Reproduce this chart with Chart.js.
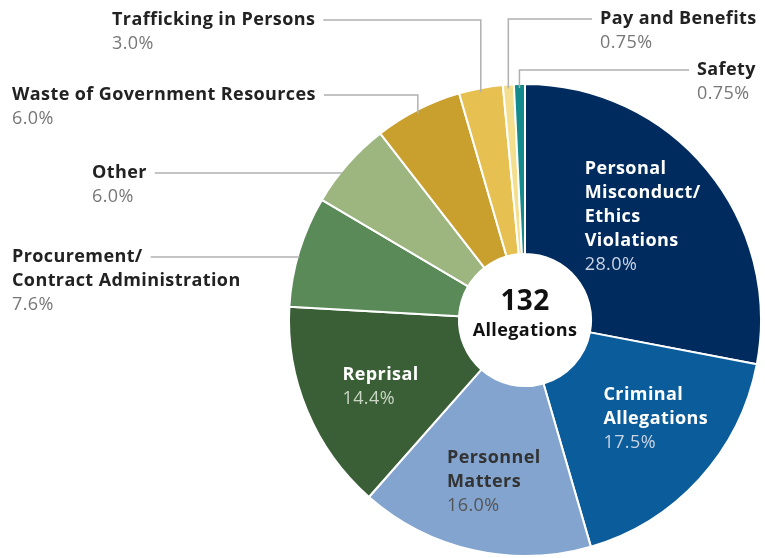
<!DOCTYPE html>
<html>
<head>
<meta charset="utf-8">
<script src="https://cdn.jsdelivr.net/npm/chart.js@4"></script>
<style>
  html, body { margin: 0; padding: 0; background: #fff; }
  #wrap { width: 765px; height: 558px; }
</style>
</head>
<body>
<div id="wrap"><canvas id="allegChart"></canvas></div>
<script>
// categories (clockwise from 12 o'clock)
const categories = [
    ['Personal', 'Misconduct/', 'Ethics', 'Violations'],
    ['Criminal', 'Allegations'],
    ['Personnel', 'Matters'],
    ['Reprisal'],
    ['Procurement/', 'Contract Administration'],
    ['Other'],
    ['Waste of Government Resources'],
    ['Trafficking in Persons'],
    ['Pay and Benefits'],
    ['Safety']
];
const percentages = [28.0, 17.5, 16.0, 14.4, 7.6, 6.0, 6.0, 3.0, 0.75, 0.75];
const pctLabels = ['28.0%', '17.5%', '16.0%', '14.4%', '7.6%', '6.0%', '6.0%', '3.0%', '0.75%', '0.75%'];
const totalCount = '132';
const totalLabel = 'Allegations';

const sliceColors = ['#002b5f', '#0a5c9a', '#82a4cf', '#3a5f36', '#5a8a58', '#9db680', '#c9a02e', '#e6c050', '#f3df8e', '#138b8c'];

const FONT = '"Open Sans", "Noto Sans", sans-serif';

// label placement per slice: inside labels are offset from the arc's mid point,
// outside labels sit at a fixed text spot with a leader line to the rim
const labelCfg = [
    { inside: true, r: 0.62, dx: -71, dy: -43, color: '#fff', pct: '#c9d3e3' },
    { inside: true, r: 0.62, dx: -47, dy: -39, color: '#fff', pct: '#c9d3e3' },
    { inside: true, r: 0.62, dx: -41, dy: -28, color: '#333', pct: '#555' },
    { inside: true, r: 0.62, dx: -26, dy: -11, color: '#fff', pct: '#c9d6c4' },
    { inside: false, x: 12, y: 257, line: 'h' },
    { inside: false, x: 92, y: 173, line: 'h' },
    { inside: false, x: 12, y: 95, line: 'v' },
    { inside: false, x: 112, y: 20, line: 'v' },
    { inside: false, x: 600, y: 19, line: 'vr' },
    { inside: false, x: 697, y: 70, line: 'vr' }
];

const labelPlugin = {
    id: 'allegLabels',
    afterDatasetsDraw(chart) {
        const ctx = chart.ctx;
        const arcs = chart.getDatasetMeta(0).data;
        ctx.save();
        ctx.letterSpacing = '0.4px';
        arcs.forEach((arc, i) => {
            const p = arc.getProps(['x', 'y', 'startAngle', 'endAngle', 'outerRadius', 'innerRadius'], true);
            const mid = (p.startAngle + p.endAngle) / 2;
            const cfg = labelCfg[i];
            const lines = categories[i];
            ctx.textBaseline = 'middle';
            ctx.textAlign = 'left';
            if (cfg.inside) {
                // keep the anchor independent of the cutout size
                const rr = p.outerRadius * 0.26 + (p.outerRadius * 0.74) * cfg.r;
                const x = p.x + Math.cos(mid) * rr + cfg.dx;
                let y = p.y + Math.sin(mid) * rr + cfg.dy;
                ctx.fillStyle = cfg.color;
                ctx.font = 'bold 18px ' + FONT;
                lines.forEach(t => { ctx.fillText(t, x, y); y += 24; });
                ctx.fillStyle = cfg.pct;
                ctx.font = '18px ' + FONT;
                ctx.fillText(pctLabels[i], x, y);
            } else {
                ctx.font = 'bold 18px ' + FONT;
                const w = ctx.measureText(lines[0]).width;
                let y = cfg.y;
                ctx.fillStyle = '#222';
                lines.forEach(t => { ctx.fillText(t, cfg.x, y); y += 24; });
                ctx.fillStyle = '#777';
                ctx.font = '18px ' + FONT;
                ctx.fillText(pctLabels[i], cfg.x, y);

                // leader line
                const ax = p.x + Math.cos(mid) * p.outerRadius;
                const ay = p.y + Math.sin(mid) * p.outerRadius;
                ctx.strokeStyle = '#b0b0b0';
                ctx.lineWidth = 1.5;
                ctx.beginPath();
                if (cfg.line === 'h') {
                    const dy = cfg.y - p.y;
                    const ex = p.x - Math.sqrt(p.outerRadius * p.outerRadius - dy * dy) + 2;
                    ctx.moveTo(cfg.x + w + 8, cfg.y);
                    ctx.lineTo(ex, cfg.y);
                } else if (cfg.line === 'v') {
                    ctx.moveTo(cfg.x + w + 8, cfg.y);
                    ctx.lineTo(ax, cfg.y);
                    ctx.lineTo(ax, ay + 4);
                } else {
                    ctx.moveTo(cfg.x - 8, cfg.y);
                    ctx.lineTo(ax, cfg.y);
                    ctx.lineTo(ax, ay + 4);
                }
                ctx.stroke();
            }
        });

        // centre text
        const c = arcs[0];
        ctx.fillStyle = '#111';
        ctx.textAlign = 'center';
        ctx.font = 'bold 28px ' + FONT;
        ctx.fillText(totalCount, c.x, c.y - 18);
        ctx.font = 'bold 18px ' + FONT;
        ctx.fillText(totalLabel, c.x, c.y + 11);
        ctx.restore();
    }
};

document.addEventListener('DOMContentLoaded', function() {
    const ctx = document.getElementById('allegChart').getContext('2d');
    new Chart(ctx, {
        type: 'doughnut',
        data: {
            labels: categories.map(l => l.join(' ')),
            datasets: [{
                data: percentages,
                backgroundColor: sliceColors,
                borderColor: '#ffffff',
                borderWidth: 2
            }]
        },
        options: {
            responsive: true,
            maintainAspectRatio: false,
            animation: false,
            cutout: '28%',
            layout: { padding: { left: 288, right: 3, top: 83, bottom: 1 } },
            plugins: {
                legend: { display: false },
                tooltip: { enabled: false }
            }
        },
        plugins: [labelPlugin]
    });
});
</script>
</body>
</html>
